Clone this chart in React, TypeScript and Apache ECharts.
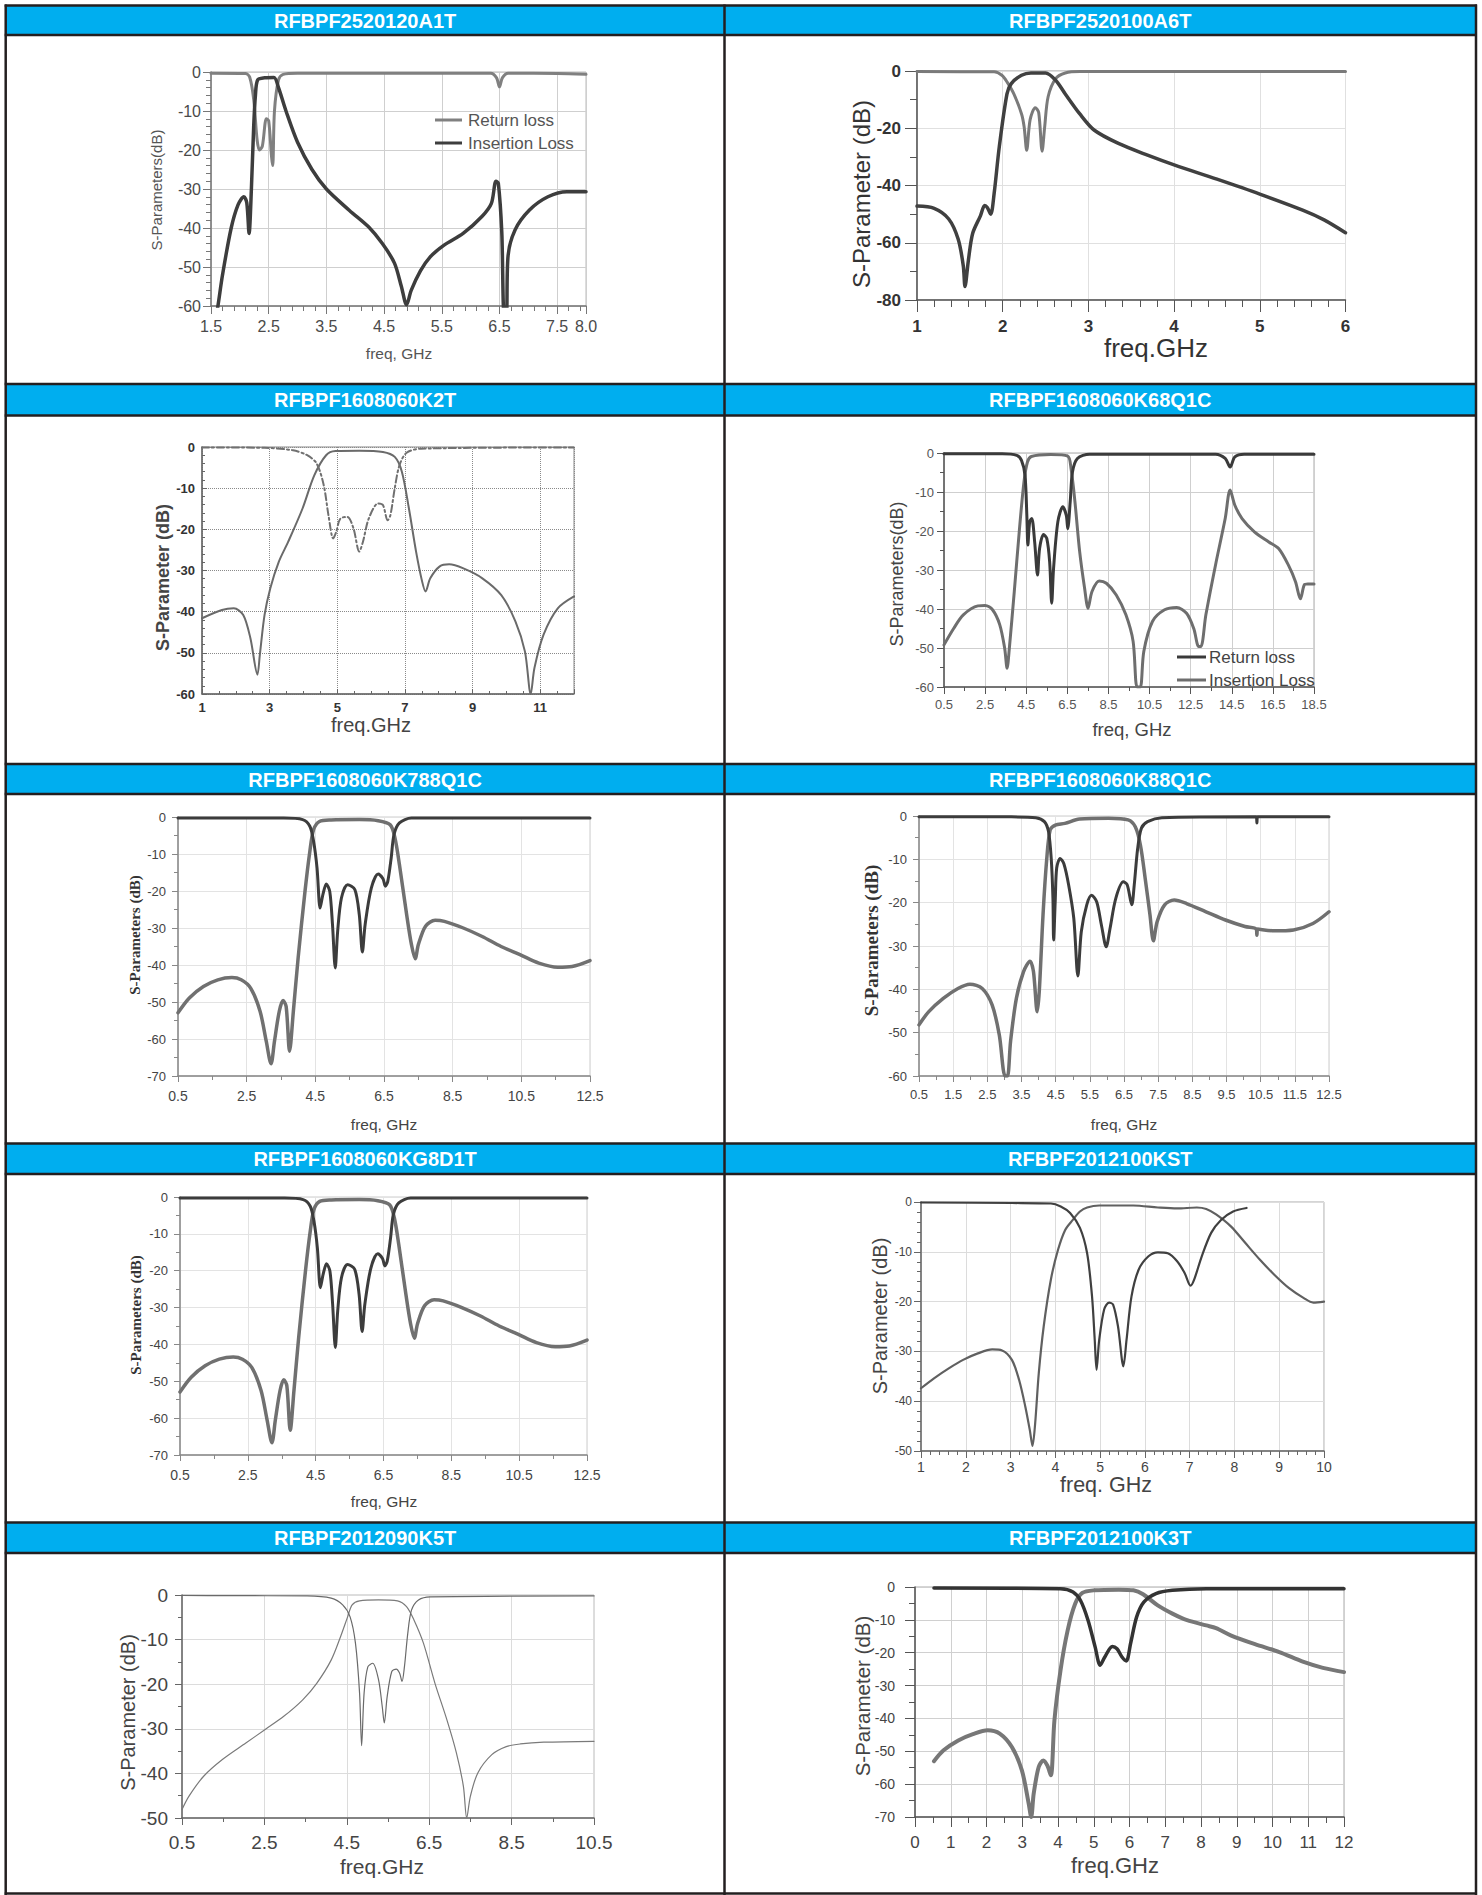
import React, { useEffect, useRef } from "react";
import * as echarts from "echarts";

const PAGE_W = 1482;
const PAGE_H = 1895;

const SANS = "'Liberation Sans', Arial, Helvetica, sans-serif";
const SERIF = "'Liberation Serif', 'Times New Roman', serif";

// ---------- titles ----------
const titles = [
  "RFBPF2520120A1T",
  "RFBPF2520100A6T",
  "RFBPF1608060K2T",
  "RFBPF1608060K68Q1C",
  "RFBPF1608060K788Q1C",
  "RFBPF1608060K88Q1C",
  "RFBPF1608060KG8D1T",
  "RFBPF2012100KST",
  "RFBPF2012090K5T",
  "RFBPF2012100K3T",
];

// ---------- data: [freq GHz, dB] ----------
const p1Insertion = [[1.55,-66],[1.62,-60],[1.7,-52],[1.85,-40],[1.97,-34],[2.07,-32],[2.12,-33.5],[2.16,-41.4],[2.2,-30],[2.24,-14],[2.27,-6],[2.31,-2],[2.43,-1.5],[2.59,-1.4],[2.67,-4],[2.8,-10],[3.0,-18],[3.25,-25],[3.5,-30],[3.9,-35.5],[4.23,-39.7],[4.47,-44],[4.68,-49],[4.8,-55],[4.89,-59.7],[4.97,-56],[5.13,-51],[5.3,-47.4],[5.54,-44.4],[5.87,-41.4],[6.2,-37],[6.36,-33.7],[6.44,-28],[6.48,-28.5],[6.54,-41],[6.58,-62],[6.62,-62],[6.65,-47],[6.77,-40.5],[7.02,-35.4],[7.34,-32],[7.67,-30.7],[8.0,-30.7]];
const p1Return = [[1.5,-0.3],[2.1,-0.4],[2.17,-1.3],[2.24,-7],[2.3,-17.5],[2.34,-20],[2.39,-19],[2.46,-12],[2.5,-12.5],[2.55,-21.8],[2.57,-24],[2.6,-10],[2.67,-2],[2.75,-0.6],[3.0,-0.3],[6.35,-0.3],[6.45,-1.5],[6.5,-3.8],[6.55,-1.5],[6.65,-0.3],[7.5,-0.4],[8.0,-0.6]];

const p2Insertion = [[1,-47.2],[1.2,-48],[1.37,-51.7],[1.48,-58.7],[1.54,-68],[1.56,-75.3],[1.6,-66],[1.65,-56.7],[1.74,-50.6],[1.79,-47],[1.82,-47.7],[1.86,-50],[1.9,-42.8],[1.96,-26.5],[2.05,-8],[2.1,-4.4],[2.22,-1.5],[2.33,-0.7],[2.5,-0.7],[2.62,-3.3],[2.73,-8],[2.9,-15],[3.07,-20.7],[3.35,-25.3],[3.69,-29.4],[4.0,-32.8],[4.5,-37.8],[5.0,-43],[5.5,-48.6],[5.75,-52],[6,-56.5]];
const p2Return = [[1,-0.2],[1.9,-0.3],[1.99,-1.5],[2.05,-3.8],[2.13,-8],[2.22,-15],[2.25,-19.5],[2.28,-27.7],[2.32,-17],[2.38,-12.8],[2.42,-14.5],[2.46,-28],[2.49,-19.5],[2.53,-9],[2.62,-2.6],[2.73,-0.7],[2.9,-0.2],[6,-0.2]];

const p3Insertion = [[1,-41.6],[1.59,-39.6],[1.94,-39.2],[2.22,-40.8],[2.43,-46.4],[2.64,-55.3],[2.71,-50.5],[2.85,-40.8],[3.02,-34.3],[3.27,-27.9],[3.55,-23],[3.97,-15],[4.32,-6.9],[4.67,-2],[4.95,-1],[5.65,-0.9],[6.35,-1.2],[6.7,-2.4],[6.91,-6],[7.12,-15],[7.33,-25.4],[7.51,-32.7],[7.61,-35.1],[7.75,-31.9],[8.03,-29],[8.31,-28.5],[8.73,-29.5],[9.29,-31.9],[9.85,-36],[10.27,-42.4],[10.55,-49.7],[10.72,-60],[10.83,-53.7],[11.1,-45.6],[11.52,-39.2],[12,-36.3]];
const p3Return = [[1,-0.1],[2.85,-0.2],[3.69,-0.8],[4.11,-2],[4.39,-4],[4.6,-9.3],[4.74,-16.6],[4.88,-22.2],[4.97,-20.6],[5.09,-17.4],[5.3,-17],[5.48,-19.8],[5.65,-25.4],[5.76,-23],[5.93,-17.4],[6.21,-13.7],[6.35,-14.1],[6.49,-17.8],[6.57,-16.6],[6.7,-10],[6.84,-4.4],[7.05,-1.4],[7.47,-0.4],[12,-0.1]];

const p4Insertion = [[0.5,-49.2],[0.97,-45],[1.44,-41.5],[2.15,-39.2],[2.5,-39.1],[2.86,-40.2],[3.21,-44],[3.45,-50],[3.57,-55.2],[3.68,-50],[3.92,-35.5],[4.16,-20.2],[4.39,-7.4],[4.56,-2.3],[4.75,-0.9],[5.69,-0.4],[6.52,-0.8],[6.68,-4],[6.87,-12.5],[7.1,-25.3],[7.34,-34.7],[7.51,-39.8],[7.7,-35.5],[8.05,-32.8],[8.4,-33.4],[8.88,-36.4],[9.35,-41.5],[9.7,-48.3],[9.89,-60],[10.05,-60],[10.22,-50.9],[10.64,-43.2],[11.23,-40.2],[11.82,-39.6],[12.3,-41.1],[12.65,-45],[12.89,-49.6],[13.0,-49.6],[13.24,-41.5],[13.71,-28.7],[14.18,-16.8],[14.42,-9.5],[14.65,-13.4],[15.0,-16.8],[15.6,-20.2],[16.3,-22.8],[16.78,-24.5],[17.25,-28.7],[17.6,-33],[17.84,-37.4],[18.03,-33.8],[18.2,-33.6],[18.5,-33.6]];
const p4Return = [[0.5,-0.2],[3.33,-0.2],[4.04,-0.6],[4.27,-1.9],[4.44,-5.7],[4.53,-16],[4.58,-23.6],[4.67,-17.6],[4.77,-16.8],[4.91,-22.8],[5.05,-31.3],[5.15,-24.5],[5.34,-20.9],[5.5,-21.9],[5.64,-27.9],[5.74,-38.5],[5.83,-29.6],[6.04,-17.6],[6.28,-13.8],[6.45,-16],[6.52,-19.4],[6.64,-12.5],[6.75,-4.9],[6.99,-1.4],[7.58,-0.3],[13.71,-0.3],[14.18,-1.4],[14.42,-3.6],[14.65,-1],[15.1,-0.3],[18.5,-0.3]];

// panels 5 and 7 show the same measurement
const p5Insertion = [[0.5,-52.9],[0.83,-48.9],[1.24,-45.8],[1.66,-44],[2.07,-43.4],[2.34,-44],[2.62,-46.3],[2.89,-52.5],[3.07,-60.6],[3.21,-66.7],[3.31,-60.6],[3.45,-52.5],[3.56,-49.6],[3.65,-51.2],[3.75,-63.3],[3.86,-52.5],[4.0,-38],[4.2,-20],[4.34,-9.3],[4.45,-3.4],[4.62,-1.2],[4.96,-0.8],[5.78,-0.7],[6.33,-1],[6.68,-2.1],[6.82,-5.7],[6.95,-12.9],[7.16,-26.4],[7.3,-34.5],[7.41,-38.3],[7.5,-34.5],[7.71,-29.5],[7.99,-27.9],[8.26,-28.2],[8.81,-30],[9.36,-32.3],[9.91,-35],[10.46,-37.2],[11.01,-39.5],[11.56,-40.6],[11.98,-40.4],[12.5,-38.8]];
const p5Return = [[0.5,-0.3],[3.58,-0.3],[4.13,-0.7],[4.34,-2.5],[4.45,-6.6],[4.55,-13.8],[4.64,-24.6],[4.72,-21],[4.82,-18.1],[4.92,-20.1],[5.0,-29.1],[5.08,-40.8],[5.15,-30.9],[5.26,-21.9],[5.44,-18.3],[5.65,-19.6],[5.78,-26.4],[5.87,-36.5],[5.95,-29.1],[6.13,-19.2],[6.33,-15.4],[6.47,-16.7],[6.54,-18.7],[6.61,-17.4],[6.71,-11],[6.79,-4.8],[6.95,-1.6],[7.3,-0.3],[12.5,-0.3]];

const p6Insertion = [[0.5,-48.2],[0.78,-45.2],[1.21,-42.1],[1.64,-39.8],[1.99,-38.8],[2.35,-39.8],[2.64,-43.6],[2.85,-50.5],[3.02,-60],[3.09,-60],[3.18,-52],[3.35,-42.1],[3.56,-35.9],[3.75,-33.5],[3.85,-35.9],[3.96,-45.2],[4.02,-40.5],[4.13,-22.8],[4.24,-9.8],[4.34,-3.2],[4.49,-2.1],[4.77,-1.7],[5.2,-0.7],[6.05,-0.5],[6.62,-0.9],[6.83,-2.5],[6.98,-6.7],[7.12,-14.4],[7.26,-22.8],[7.36,-28.8],[7.47,-24.4],[7.69,-20.5],[7.97,-19.4],[8.33,-20.2],[8.9,-22.1],[9.47,-24],[10.04,-25.5],[10.37,-26.1],[10.39,-27.5],[10.41,-26.1],[10.89,-26.5],[11.46,-26.3],[12.03,-24.8],[12.5,-22.1]];
const p6Return = [[0.5,-0.2],[3.2,-0.2],[3.92,-0.4],[4.17,-1.3],[4.29,-3.6],[4.37,-9.8],[4.42,-19],[4.44,-28.6],[4.49,-19],[4.53,-12],[4.63,-9.8],[4.74,-11],[4.88,-15.9],[5.03,-23.6],[5.15,-36.9],[5.25,-26.7],[5.41,-20.5],[5.55,-18.3],[5.7,-19.8],[5.84,-25.2],[5.98,-30.2],[6.09,-26],[6.26,-19],[6.48,-15.2],[6.59,-15.8],[6.69,-19.4],[6.73,-20.5],[6.8,-15.9],[6.9,-7.5],[7.01,-2.8],[7.19,-1.3],[7.61,-0.4],[10.37,-0.2],[10.39,-1.6],[10.41,-0.2],[12.5,-0.2]];

const p8Insertion = [[1,-37.4],[1.29,-35.4],[1.62,-33.4],[1.94,-31.7],[2.27,-30.4],[2.59,-29.6],[2.81,-29.8],[3.03,-31.7],[3.19,-35.7],[3.33,-41.1],[3.43,-45.8],[3.49,-49],[3.55,-44.4],[3.63,-34.4],[3.74,-25],[3.9,-15.6],[4.06,-9.6],[4.22,-5.6],[4.39,-3.6],[4.55,-1.9],[4.71,-1.1],[4.98,-0.7],[5.74,-0.7],[6.29,-1.1],[6.72,-1.3],[7.16,-1.1],[7.37,-1.4],[7.59,-2.5],[7.92,-4.9],[8.24,-8.2],[8.57,-11.6],[8.89,-14.6],[9.22,-17.3],[9.55,-19.3],[9.76,-20.2],[10,-20]];
const p8Return = [[1,-0.1],[3.03,-0.2],[3.9,-0.3],[4.12,-0.9],[4.33,-2.2],[4.55,-5.2],[4.71,-10.3],[4.82,-19],[4.88,-27.7],[4.92,-33.7],[4.98,-27.7],[5.09,-21.6],[5.2,-20.2],[5.29,-20.6],[5.4,-25],[5.52,-33],[5.59,-27.7],[5.7,-19],[5.86,-13.6],[6.08,-10.9],[6.29,-10.1],[6.51,-10.3],[6.72,-11.9],[6.89,-14.3],[7.02,-16.8],[7.1,-15.6],[7.27,-10.9],[7.48,-6.2],[7.7,-3.6],[7.97,-1.9],[8.27,-1.2]];

const p9Insertion = [[0.5,-48.1],[0.67,-45.1],[1.02,-40.7],[1.48,-36.9],[2.05,-33.2],[2.51,-30.2],[2.97,-27.2],[3.43,-23.5],[3.77,-19.8],[4.12,-14.6],[4.35,-9.3],[4.52,-4.9],[4.63,-2.2],[4.81,-1.3],[5.27,-1.1],[5.73,-1.3],[5.95,-2.6],[6.13,-5.6],[6.36,-10.8],[6.64,-19.8],[6.93,-28],[7.16,-35.4],[7.33,-42.9],[7.41,-50],[7.5,-45.1],[7.68,-39.9],[8.02,-35.8],[8.37,-34],[8.71,-33.4],[9.28,-33],[10.5,-32.8]];
const p9Return = [[0.5,-0.1],[1.59,-0.15],[3.54,-0.2],[4.12,-0.7],[4.4,-2.2],[4.58,-4.9],[4.71,-10.8],[4.81,-22],[4.86,-33.8],[4.92,-22],[5.01,-16.1],[5.13,-15.3],[5.27,-19],[5.36,-25],[5.41,-28.7],[5.48,-22.8],[5.59,-17.2],[5.7,-16.6],[5.78,-17.5],[5.84,-19.4],[5.9,-16],[5.98,-8.6],[6.07,-3.4],[6.24,-1.1],[6.53,-0.4],[10.5,-0.2]];

const p10Insertion = [[0.53,-53],[0.8,-49.7],[1.21,-46.7],[1.62,-44.8],[2.03,-43.6],[2.37,-44.6],[2.71,-48.7],[2.99,-55.8],[3.18,-65.9],[3.25,-70],[3.32,-62.9],[3.46,-54.8],[3.59,-52.8],[3.7,-54.3],[3.8,-57.3],[3.9,-40.6],[4.07,-25.4],[4.27,-13.2],[4.48,-5.1],[4.68,-1.8],[5.02,-1],[5.7,-0.8],[6.11,-1],[6.38,-2.2],[6.79,-5.6],[7.2,-8.1],[7.61,-10.1],[8.15,-11.7],[8.42,-12.5],[8.83,-14.7],[9.51,-17.4],[10.19,-19.8],[10.87,-22.8],[11.41,-24.6],[12,-25.9]];
const p10Return = [[0.53,-0.3],[4.07,-0.5],[4.42,-1.5],[4.63,-4.1],[4.84,-10.1],[5.04,-18.3],[5.18,-23.8],[5.31,-21.3],[5.52,-18.1],[5.65,-18.8],[5.79,-21.3],[5.91,-22.5],[6.03,-17.2],[6.2,-9.1],[6.4,-4.6],[6.74,-2],[7.2,-1],[8.15,-0.5],[12,-0.5]];

// ---------- table geometry ----------
const rowTops = [5.5, 384, 764, 1143.5, 1522.5];
const rowHeadBottoms = [35, 415.5, 794, 1174, 1553];
const colLines = [5.7, 724.5, 1476];
const LINE = "#231f20";
const HEAD = "#00aeef";

type Curve = { data: number[][]; color: string; width: number; dash?: any };
type TextCfg = { text: string; x: number; y: number; size: number; color: string; weight?: string; family?: string };

const fix1 = (v: number) => v.toFixed(1);

const panels: any[] = [
  {
    grid: [211, 72, 375, 234],
    x: { min: 1.5, max: 8, interval: 1, minor: 5, fmt: fix1, showMax: true },
    y: { min: -60, max: 0, interval: 10, minor: 5 },
    xLab: 16, yLab: 16, labColor: "#4a4a4a", labWeight: "normal", xMargin: 12, yMargin: 10,
    tick: [8, 5], tickInside: false, axisColor: "#777", split: "#cfcfcf", splitType: "solid", border: "#bbb",
    yName: { text: "S-Parameters(dB)", x: 156, y: 190, size: 15, color: "#555" },
    xName: { text: "freq, GHz", x: 399, y: 353, size: 15.5, color: "#555" },
    curves: [
      { data: p1Return, color: "#808080", width: 3 },
      { data: p1Insertion, color: "#3d3d3d", width: 3.5 },
    ],
    legend: { x1: 435, x2: 462, tx: 468, ys: [120, 143], size: 17, color: "#555",
      items: [{ label: "Return loss", color: "#808080" }, { label: "Insertion Loss", color: "#3d3d3d" }] },
  },
  {
    grid: [917, 71, 428.5, 229],
    x: { min: 1, max: 6, interval: 1, minor: 5 },
    y: { min: -80, max: 0, interval: 20, minor: 2 },
    xLab: 17, yLab: 17, labColor: "#333", labWeight: "bold", xMargin: 18, yMargin: 16,
    tick: [12, 7], tickInside: false, axisColor: "#555", split: "#e0e0e0", splitType: "solid", border: "#999",
    yName: { text: "S-Parameter (dB)", x: 861, y: 194, size: 24, color: "#333" },
    xName: { text: "freq.GHz", x: 1156, y: 348, size: 26, color: "#333" },
    curves: [
      { data: p2Return, color: "#7a7a7a", width: 3 },
      { data: p2Insertion, color: "#404040", width: 3.5 },
    ],
  },
  {
    grid: [202, 447, 372, 247],
    x: { min: 1, max: 12, interval: 2, minor: 4, showMax: false },
    y: { min: -60, max: 0, interval: 10, minor: 5 },
    xLab: 13, yLab: 13, labColor: "#333", labWeight: "bold", xMargin: 7, yMargin: 7,
    tick: [5, 3], tickInside: true, axisColor: "#666", split: "#8a8a8a", splitType: "dotted", border: "#888",
    yName: { text: "S-Parameter (dB)", x: 163, y: 577.5, size: 18, color: "#444", weight: "bold" },
    xName: { text: "freq.GHz", x: 371, y: 725, size: 20, color: "#444" },
    curves: [
      { data: p3Insertion, color: "#6a6a6a", width: 2 },
      { data: p3Return, color: "#707070", width: 2, dash: [7, 3, 2, 3] },
    ],
  },
  {
    grid: [944, 453, 370, 234],
    x: { min: 0.5, max: 18.5, interval: 2, minor: 2 },
    y: { min: -60, max: 0, interval: 10, minor: 2 },
    xLab: 13, yLab: 13, labColor: "#555", labWeight: "normal", xMargin: 11, yMargin: 10,
    tick: [7, 4], tickInside: false, axisColor: "#555", split: "#cfcfcf", splitType: "solid", border: "#aaa",
    yName: { text: "S-Parameters(dB)", x: 897, y: 574, size: 18, color: "#444" },
    xName: { text: "freq, GHz", x: 1132, y: 729, size: 18.5, color: "#444" },
    curves: [
      { data: p4Insertion, color: "#6e6e6e", width: 3 },
      { data: p4Return, color: "#3a3a3a", width: 3 },
    ],
    legend: { x1: 1177, x2: 1206, tx: 1209, ys: [657, 680], size: 17, color: "#444",
      items: [{ label: "Return loss", color: "#3a3a3a" }, { label: "Insertion Loss", color: "#6e6e6e" }] },
  },
  {
    grid: [178, 817, 412, 259],
    x: { min: 0.5, max: 12.5, interval: 2, minor: 2 },
    y: { min: -70, max: 0, interval: 10, minor: 2 },
    xLab: 14, yLab: 13, labColor: "#444", labWeight: "normal", xMargin: 13, yMargin: 12,
    tick: [6, 4], tickInside: false, axisColor: "#888", split: "#e3e3e3", splitType: "solid", border: "#ccc",
    yName: { text: "S-Parameters (dB)", x: 135, y: 935, size: 15, color: "#333", weight: "bold", family: SERIF },
    xName: { text: "freq, GHz", x: 384, y: 1124, size: 15.5, color: "#444" },
    curves: [
      { data: p5Insertion, color: "#707070", width: 3.5 },
      { data: p5Return, color: "#3c3c3c", width: 3 },
    ],
  },
  {
    grid: [919, 816, 410, 260],
    x: { min: 0.5, max: 12.5, interval: 1, minor: 2 },
    y: { min: -60, max: 0, interval: 10, minor: 2 },
    xLab: 13, yLab: 13, labColor: "#444", labWeight: "normal", xMargin: 12, yMargin: 12,
    tick: [6, 4], tickInside: false, axisColor: "#888", split: "#e3e3e3", splitType: "solid", border: "#ccc",
    yName: { text: "S-Parameters (dB)", x: 871, y: 940.5, size: 19, color: "#333", weight: "bold", family: SERIF },
    xName: { text: "freq, GHz", x: 1124, y: 1124, size: 15.5, color: "#444" },
    curves: [
      { data: p6Insertion, color: "#707070", width: 3.5 },
      { data: p6Return, color: "#3c3c3c", width: 3 },
    ],
  },
  {
    grid: [180, 1197, 407, 258],
    x: { min: 0.5, max: 12.5, interval: 2, minor: 2 },
    y: { min: -70, max: 0, interval: 10, minor: 2 },
    xLab: 14, yLab: 13, labColor: "#444", labWeight: "normal", xMargin: 13, yMargin: 12,
    tick: [6, 4], tickInside: false, axisColor: "#888", split: "#e3e3e3", splitType: "solid", border: "#ccc",
    yName: { text: "S-Parameters (dB)", x: 136, y: 1315, size: 15, color: "#333", weight: "bold", family: SERIF },
    xName: { text: "freq, GHz", x: 384, y: 1501.5, size: 15.5, color: "#444" },
    curves: [
      { data: p5Insertion, color: "#707070", width: 3.5 },
      { data: p5Return, color: "#3c3c3c", width: 3 },
    ],
  },
  {
    grid: [921, 1202, 403, 249],
    x: { min: 1, max: 10, interval: 1, minor: 5 },
    y: { min: -50, max: 0, interval: 10, minor: 5 },
    xLab: 14, yLab: 12, labColor: "#444", labWeight: "normal", xMargin: 9, yMargin: 9,
    tick: [7, 4], tickInside: false, axisColor: "#666", split: "#dcdcdc", splitType: "solid", border: "#aaa",
    yName: { text: "S-Parameter (dB)", x: 880, y: 1316, size: 20, color: "#444" },
    xName: { text: "freq. GHz", x: 1106, y: 1485, size: 21.5, color: "#444" },
    curves: [
      { data: p8Insertion, color: "#606060", width: 2.2 },
      { data: p8Return, color: "#404040", width: 2.2 },
    ],
  },
  {
    grid: [182, 1595, 412, 223],
    x: { min: 0.5, max: 10.5, interval: 2, minor: 2 },
    y: { min: -50, max: 0, interval: 10, minor: 2 },
    xLab: 19, yLab: 19, labColor: "#444", labWeight: "normal", xMargin: 15, yMargin: 14,
    tick: [7, 4], tickInside: false, axisColor: "#666", split: "#dcdcdc", splitType: "solid", border: "#bbb",
    yName: { text: "S-Parameter (dB)", x: 128, y: 1712.5, size: 20, color: "#444" },
    xName: { text: "freq.GHz", x: 382, y: 1866.5, size: 21, color: "#444" },
    curves: [
      { data: p9Insertion, color: "#7a7a7a", width: 1.2 },
      { data: p9Return, color: "#6a6a6a", width: 1.2 },
    ],
  },
  {
    grid: [915, 1587, 429, 230],
    x: { min: 0, max: 12, interval: 1, minor: 2 },
    y: { min: -70, max: 0, interval: 10, minor: 2 },
    xLab: 17, yLab: 14, labColor: "#444", labWeight: "normal", xMargin: 17, yMargin: 20,
    tick: [10, 6], tickInside: false, axisColor: "#555", split: "#d0d0d0", splitType: "solid", border: "#aaa",
    yName: { text: "S-Parameter (dB)", x: 862, y: 1696, size: 20.5, color: "#444" },
    xName: { text: "freq.GHz", x: 1115, y: 1865, size: 22, color: "#444" },
    curves: [
      { data: p10Insertion, color: "#777777", width: 4 },
      { data: p10Return, color: "#333333", width: 3.5 },
    ],
  },
];

function textEl(t: TextCfg, rotation = 0, z2 = 10) {
  return {
    type: "text",
    x: t.x,
    y: t.y,
    rotation,
    silent: true,
    z2,
    style: {
      text: t.text,
      fill: t.color,
      fontSize: t.size,
      fontFamily: t.family || SANS,
      fontWeight: t.weight || "normal",
      textAlign: "center",
      textVerticalAlign: "middle",
    },
  };
}

function buildOption() {
  const grid: any[] = [];
  const xAxis: any[] = [];
  const yAxis: any[] = [];
  const series: any[] = [];
  const elements: any[] = [];

  // table header bars
  rowTops.forEach((top, r) => {
    elements.push({
      type: "rect", silent: true, z2: 1,
      shape: { x: colLines[0], y: top, width: colLines[2] - colLines[0], height: rowHeadBottoms[r] - top },
      style: { fill: HEAD },
    });
  });
  // horizontal lines
  [...rowTops, ...rowHeadBottoms, 1893.5].forEach((y) => {
    elements.push({
      type: "line", silent: true, z2: 5,
      shape: { x1: colLines[0] - 1, y1: y, x2: colLines[2] + 1, y2: y },
      style: { stroke: LINE, lineWidth: 2.5 },
    });
  });
  // vertical lines
  colLines.forEach((x) => {
    elements.push({
      type: "line", silent: true, z2: 5,
      shape: { x1: x, y1: rowTops[0] - 1, x2: x, y2: PAGE_H },
      style: { stroke: LINE, lineWidth: 2.5 },
    });
  });
  // titles
  titles.forEach((t, i) => {
    const r = Math.floor(i / 2);
    const c = i % 2;
    const cx = (colLines[c] + colLines[c + 1]) / 2;
    const cy = (rowTops[r] + rowHeadBottoms[r]) / 2 + 0.5;
    elements.push(textEl({ text: t, x: cx, y: cy, size: 20, color: "#ffffff", weight: "bold" }, 0, 20));
  });

  panels.forEach((p, i) => {
    grid.push({
      left: p.grid[0], top: p.grid[1], width: p.grid[2], height: p.grid[3],
      show: true, borderColor: p.border, borderWidth: 1, backgroundColor: "transparent",
    });
    const common = (isX: boolean) => ({
      type: "value",
      gridIndex: i,
      axisLine: { show: true, onZero: false, lineStyle: { color: p.axisColor, width: 1.5 } },
      axisTick: { show: true, inside: p.tickInside, length: p.tick[0], lineStyle: { color: p.axisColor, width: 1 } },
      minorTick: { show: true, splitNumber: isX ? p.x.minor : p.y.minor, length: p.tick[1], lineStyle: { color: p.axisColor, width: 1 } },
      minorSplitLine: { show: false },
      splitLine: { show: true, lineStyle: { color: p.split, type: p.splitType, width: 1 } },
    });
    xAxis.push({
      ...common(true),
      min: p.x.min, max: p.x.max, interval: p.x.interval,
      axisLabel: {
        show: true, margin: p.xMargin, fontSize: p.xLab, color: p.labColor, fontWeight: p.labWeight,
        fontFamily: SANS, formatter: p.x.fmt, showMinLabel: true,
        showMaxLabel: p.x.showMax === undefined ? true : p.x.showMax, hideOverlap: false,
      },
    });
    yAxis.push({
      ...common(false),
      min: p.y.min, max: p.y.max, interval: p.y.interval,
      axisLabel: {
        show: true, margin: p.yMargin, fontSize: p.yLab, color: p.labColor, fontWeight: p.labWeight,
        fontFamily: SANS, showMinLabel: true, showMaxLabel: true, hideOverlap: false,
      },
    });
    p.curves.forEach((c: Curve) => {
      series.push({
        type: "line",
        xAxisIndex: i,
        yAxisIndex: i,
        data: c.data,
        showSymbol: false,
        symbol: "none",
        smooth: 0.3,
        clip: true,
        silent: true,
        lineStyle: { color: c.color, width: c.width, type: c.dash || "solid", cap: "round", join: "round" },
        emphasis: { disabled: true },
      });
    });
    elements.push(textEl(p.yName, Math.PI / 2));
    elements.push(textEl(p.xName));
    if (p.legend) {
      const L = p.legend;
      L.items.forEach((it: any, k: number) => {
        const y = L.ys[k];
        elements.push({
          type: "line", silent: true, z2: 10,
          shape: { x1: L.x1, y1: y, x2: L.x2, y2: y },
          style: { stroke: it.color, lineWidth: 3 },
        });
        elements.push({
          type: "text", x: L.tx, y, silent: true, z2: 10,
          style: {
            text: it.label, fill: L.color, fontSize: L.size, fontFamily: SANS,
            textAlign: "left", textVerticalAlign: "middle",
          },
        });
      });
    }
  });

  return {
    animation: false,
    backgroundColor: "#ffffff",
    grid,
    xAxis,
    yAxis,
    series,
    graphic: { elements },
  };
}

export default function App() {
  const ref = useRef<HTMLDivElement>(null);
  useEffect(() => {
    document.body.style.margin = "0";
    const chart = echarts.init(ref.current as HTMLDivElement, undefined, {
      renderer: "svg",
      width: PAGE_W,
      height: PAGE_H,
    });
    chart.setOption(buildOption() as any);
    return () => chart.dispose();
  }, []);
  return (
    <div
      ref={ref}
      style={{ position: "absolute", left: 0, top: 0, width: PAGE_W, height: PAGE_H, background: "#fff" }}
    />
  );
}
